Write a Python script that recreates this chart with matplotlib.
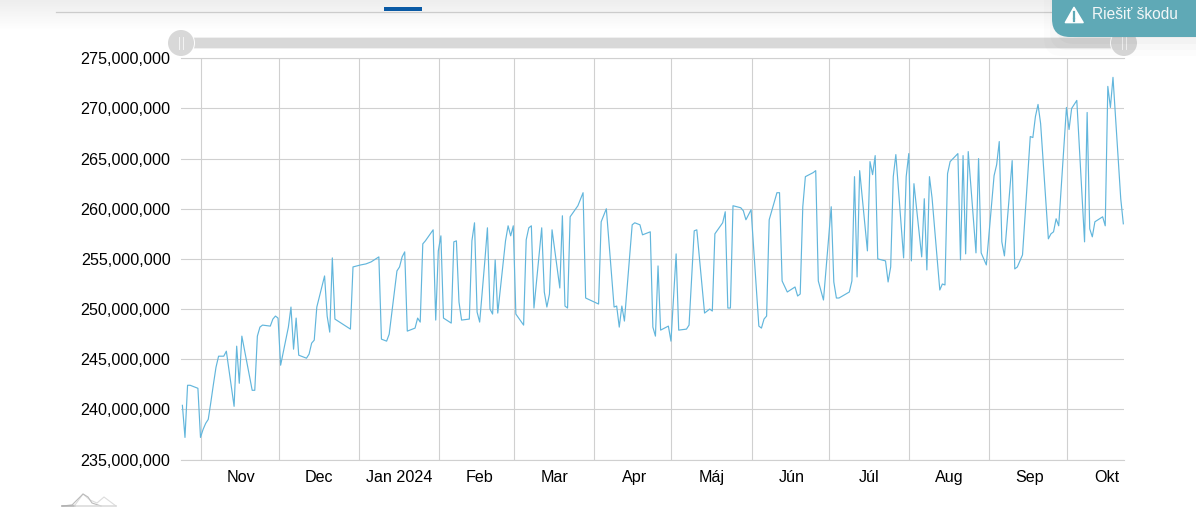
import numpy as np
import pandas as pd
import matplotlib
matplotlib.use('Agg')
import matplotlib.pyplot as plt
from matplotlib.patches import Circle, FancyBboxPatch, Polygon, Rectangle

plt.rcParams['font.family'] = ['Liberation Sans', 'DejaVu Sans']

# Days since 1 Nov 2023 and value in millions.
days_a = [-7, -6, -5, -4, -2, -1, 0, 1, 2, 3, 4, 5, 6, 7, 8, 9, 10, 13, 14, 15, 16, 20, 21, 22, 23, 24, 27, 28, 29, 30,
          31, 34, 35, 36, 37, 38, 41, 42, 43, 44, 45, 48, 49, 50, 51, 52, 58, 59, 62, 64, 66, 69, 70, 72, 73, 76, 77, 78, 79, 80,
          83, 84, 85, 86, 87, 90, 91, 92, 93, 94, 97, 98, 99, 100, 101, 104, 105, 106, 107, 108, 110, 111]
vals_a = [240.4, 237.2, 242.4, 242.4, 242.2, 242.1, 237.2, 238.0, 238.6, 239.0, 240.7, 242.5, 244.2, 245.3, 245.3, 245.3, 245.8, 240.3, 246.3, 242.6,
          247.3, 241.9, 241.9, 247.3, 248.2, 248.4, 248.3, 249.0, 249.3, 249.1,
          244.4, 248.2, 250.2, 246.0, 249.1, 245.4, 245.1, 245.5, 246.6, 246.9, 250.2, 253.3, 249.3, 247.7, 255.1, 249.0, 248.0, 254.2, 254.4, 254.5,
          254.7, 255.2, 247.0, 246.8, 247.5, 253.8, 254.2, 255.2, 255.7, 247.8,
          248.1, 249.1, 248.7, 256.5, 256.8, 257.9, 248.9, 255.8, 257.3, 249.1, 248.6, 256.7, 256.8, 250.7, 248.9, 249.0, 256.8, 258.6, 249.7, 248.7, 254.8, 258.1]

days_b = [112, 113, 114, 115, 118, 119, 120, 121, 122, 125, 126, 127, 128, 129, 132, 133, 134, 135, 136, 139, 140, 141, 142, 143, 146, 148, 149, 154, 155, 157,
          160, 161, 162, 163, 164, 167, 168, 170, 171, 174, 175, 176, 177, 178, 181, 182, 184, 185, 188, 189, 191, 192, 195, 197, 198, 199, 202, 203, 204, 205,
          206, 209, 210, 211, 213, 216, 217, 218, 219, 220, 223, 224, 225, 227]
vals_b = [250.0, 249.5, 254.9, 249.6, 256.8, 258.3, 257.3, 258.3, 249.5, 248.4, 256.9, 258.1, 258.3, 250.1, 258.1, 251.7, 250.2, 251.5, 257.9, 252.1,
          259.3, 250.3, 250.1, 259.2, 260.3, 261.6, 251.1, 250.5, 258.7, 260.0,
          250.2, 250.3, 248.2, 250.3, 248.8, 258.4, 258.6, 258.4, 257.4, 257.7, 248.2, 247.3, 254.3, 247.9, 248.3, 246.8, 255.5, 247.9, 248.0, 248.4,
          257.8, 257.9, 249.6, 250.0, 249.8, 257.5, 258.6, 259.7, 250.1, 250.1,
          260.3, 260.1, 259.8, 258.9, 259.9, 248.3, 248.1, 249.0, 249.3, 258.9, 261.6, 261.6, 252.8, 251.7]

days_c = [230, 231, 232, 233, 234, 237, 238, 239, 241, 244, 245, 246, 247, 251, 252, 253, 254, 255, 258, 259, 260, 261, 262, 265, 266, 267, 268, 269, 272, 273,
          274, 275, 276, 279, 280, 281, 282, 283, 286, 287, 288, 289, 290, 293, 294, 295, 296, 297, 300, 301, 302, 304, 307, 308, 309, 310, 311, 314, 315, 316,
          318, 321, 322, 323, 324, 325, 328, 329, 330, 331, 332, 335, 336, 337, 339, 342, 343, 344, 345, 346, 349, 350, 351, 352, 353, 356, 357]
vals_c = [252.2, 251.3, 251.5, 260.2, 263.2, 263.6, 263.8, 252.8, 250.9, 260.2, 252.7, 251.1, 251.1, 251.7, 252.8, 263.2, 253.2, 263.8, 255.8, 264.7,
          263.4, 265.3, 255.0, 254.8, 252.7, 254.2, 263.2, 265.4, 255.1, 263.2,
          265.5, 254.8, 262.5, 255.2, 261.0, 253.9, 263.2, 261.1, 251.9, 252.5, 252.4, 263.5, 264.7, 265.5, 254.9, 265.3, 255.5, 265.7, 255.6, 265.0,
          255.6, 254.4, 263.3, 264.4, 266.7, 256.7, 255.3, 264.8, 254.0, 254.2,
          255.4, 267.2, 267.1, 269.2, 270.4, 268.5, 257.0, 257.5, 257.7, 259.0, 258.3, 270.1, 267.9, 270.0, 270.8, 256.7, 269.6, 258.0, 257.2, 258.7,
          259.2, 258.3, 272.2, 270.1, 273.1, 261.0, 258.5]

month_starts = ['2023-11-01', '2023-12-01', '2024-01-01', '2024-02-01', '2024-03-01', '2024-04-01',
                '2024-05-01', '2024-06-01', '2024-07-01', '2024-08-01', '2024-09-01', '2024-10-01']
month_labels = ['Nov', 'Dec', 'Jan 2024', 'Feb', 'Mar', 'Apr', 'Máj', 'Jún', 'Júl', 'Aug', 'Sep', 'Okt']
y_ticks = np.arange(235, 280, 5)

W, H = 1196, 519
GRID = '#d0d0d0'
fig = plt.figure(figsize=(W / 100, H / 100), dpi=100)

# Chart area in pixels
left, right, top, bottom = 181, 1124, 58.3, 459.5
ax = fig.add_axes([left / W, 1 - bottom / H, (right - left) / W, (bottom - top) / H])

start = pd.Timestamp('2023-11-01')
days = np.array(days_a + days_b + days_c, dtype=float)
vals = np.array(vals_a + vals_b + vals_c) * 1e6
# points sit a few hours before the midnight gridlines
dates = start + pd.to_timedelta(days - 0.2, unit='D')

ax.plot(dates, vals, color='#62b6dc', lw=0.85, zorder=3)

ax.set_xlim(start + pd.Timedelta(days=-7.74), start + pd.Timedelta(days=357.06))
ax.set_ylim(235e6, 275e6)
ax.set_yticks(y_ticks * 1e6)
ax.set_yticklabels([f'{v * 1000000:,}' for v in y_ticks])

grid_dates = pd.to_datetime(month_starts)
ax.set_xticks(grid_dates)
ax.set_xticklabels([])
ax.set_xticks(grid_dates + pd.Timedelta(days=15.6), minor=True)
ax.set_xticklabels(month_labels, minor=True)

ax.grid(True, which='major', color=GRID, lw=0.8)
ax.set_axisbelow(True)
ax.tick_params(which='both', length=0)
ax.tick_params(axis='y', labelsize=11.6, pad=7.5, labelcolor='black')
ax.tick_params(axis='x', which='minor', labelsize=11.6, pad=7.5, labelcolor='black')
for s in ['right', 'left']:
    ax.spines[s].set_visible(False)
ax.spines['top'].set_color(GRID)
ax.spines['top'].set_linewidth(0.8)
ax.spines['bottom'].set_color(GRID)
ax.spines['bottom'].set_linewidth(0.8)

# Page furniture around the chart, drawn in pixel coordinates
ui = fig.add_axes([0, 0, 1, 1], zorder=5)
ui.set_xlim(0, W)
ui.set_ylim(H, 0)
ui.axis('off')
ui.patch.set_alpha(0)

fade = np.linspace(0, 1, 30)[:, None]
ui.imshow(fade, extent=(0, W, 30, 0), cmap=matplotlib.colors.LinearSegmentedColormap.from_list('f', ['#eeeeee', '#ffffff']),
          aspect='auto', zorder=0)
ui.set_xlim(0, W)
ui.set_ylim(H, 0)
ui.plot([56, W], [11.5, 11.5], color='#cccccc', lw=0.9, zorder=1)
ui.add_patch(Rectangle((384, 7), 38, 4, color='#0a5aa5', lw=0, zorder=2))

# range slider
ui.add_patch(Rectangle((181, 37), 943, 12, color='#f0f0f0', lw=0, zorder=2))
ui.add_patch(Rectangle((181, 38), 943, 10, color='#d8d8d8', lw=0, zorder=2))
for cx in [181, 1124]:
    ui.add_patch(Circle((cx, 43), 14, color='white', lw=0, zorder=3))
    ui.add_patch(Circle((cx, 43), 13, color='#d8d8d8', lw=0, zorder=3))
    for dx in [-2, 2]:
        ui.plot([cx + dx, cx + dx], [37, 49], color='#f4f4f4', lw=0.7, zorder=4)

# button shadow and button
for grow, alpha in zip([26, 20, 14, 8, 4], [0.012, 0.015, 0.02, 0.025, 0.03]):
    ui.add_patch(FancyBboxPatch((1070 - grow, -20), 160 + 2 * grow, 50 + grow, boxstyle='round,pad=0,rounding_size=18',
                                fc='black', ec='none', alpha=alpha, zorder=5))
ui.add_patch(FancyBboxPatch((1052, -20), 170, 57, boxstyle='round,pad=0,rounding_size=18', fc='#5fa9b6', ec='none', zorder=6))
ui.add_patch(Polygon([[1074, 7.5], [1083, 22.5], [1065.5, 22.5]], closed=True, fc='white', ec='white', lw=1.2, joinstyle='round', zorder=7))
ui.plot([1074, 1074], [12, 17.5], color='#5fa9b6', lw=1.6, zorder=8)
ui.plot([1074, 1074], [19.3, 21], color='#5fa9b6', lw=1.6, zorder=8)
ui.text(1092, 14.5, 'Riešiť škodu', color='#f2f7f8', fontsize=11.2, va='center', ha='left', zorder=8)

# navigator icon
ui.plot([62, 75, 83, 90, 97, 104, 116], [506, 505, 494, 500, 503, 497, 506], color='#dcdcdc', lw=0.8, zorder=3)
ui.plot([62, 72, 78, 83, 88, 92, 101], [506, 505, 499, 494, 497, 503, 506], color='#bbbbbb', lw=0.8, zorder=3)
ui.plot([62, 75], [506, 506], color='#b0b0b0', lw=1.1, zorder=3)
ui.plot([75, 116], [506, 506], color='#d8d8d8', lw=1.1, zorder=3)

fig.savefig('out.png', dpi=100)
